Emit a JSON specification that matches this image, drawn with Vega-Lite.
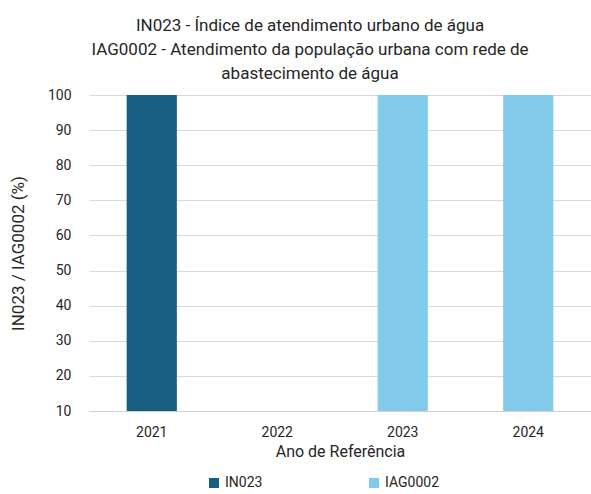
{
  "$schema": "https://vega.github.io/schema/vega-lite/v6.json",
  "width": 502,
  "height": 316,
  "autosize": {"type": "none"},
  "padding": {"left": 89, "top": 95, "right": 0, "bottom": 83},
  "background": "white",
  "config": {
    "view": {"stroke": null},
    "font": "Roboto"
  },
  "title": {
    "text": ["IN023 - Índice de atendimento urbano de água", "IAG0002 - Atendimento da população urbana com rede de", "abastecimento de água"],
    "fontSize": 17,
    "fontWeight": "normal",
    "font": "Roboto",
    "color": "#262626",
    "lineHeight": 24,
    "anchor": "middle",
    "dx": -30,
    "offset": 5
  },
  "data": {
    "values": [
      {"ano": "2021", "serie": "IN023", "valor": 100},
      {"ano": "2023", "serie": "IAG0002", "valor": 100},
      {"ano": "2024", "serie": "IAG0002", "valor": 100}
    ]
  },
  "mark": {"type": "bar", "clip": true},
  "encoding": {
    "x": {
      "field": "ano",
      "type": "nominal",
      "scale": {"domain": ["2021", "2022", "2023", "2024"], "paddingInner": 0.6, "paddingOuter": 0.3},
      "axis": {
        "title": "Ano de Referência",
        "titleFontSize": 16,
        "titleFontWeight": "normal",
        "titleColor": "#262626",
        "titlePadding": 4,
        "labelAngle": 0,
        "labelFontSize": 14,
        "labelColor": "#262626",
        "labelPadding": 14,
        "ticks": false,
        "domainColor": "#d0d0d0",
        "grid": false
      }
    },
    "y": {
      "field": "valor",
      "type": "quantitative",
      "scale": {"domain": [10, 100], "zero": false, "nice": false},
      "axis": {
        "title": "IN023 / IAG0002  (%)",
        "titleFontSize": 17,
        "titleFontWeight": "normal",
        "titleColor": "#262626",
        "titlePadding": 20,
        "values": [10, 20, 30, 40, 50, 60, 70, 80, 90, 100],
        "labelFontSize": 14,
        "labelColor": "#262626",
        "labelPadding": 18,
        "ticks": false,
        "domain": false,
        "gridColor": "#d9d9d9"
      }
    },
    "y2": {"datum": 10},
    "color": {
      "field": "serie",
      "type": "nominal",
      "scale": {"domain": ["IN023", "IAG0002"], "range": ["#175e80", "#83cbeb"]},
      "legend": {
        "title": null,
        "orient": "none",
        "direction": "horizontal",
        "legendX": 118,
        "legendY": 381,
        "symbolType": "square",
        "symbolSize": 100,
        "symbolStrokeWidth": 0,
        "labelFontSize": 14,
        "labelColor": "#262626",
        "columnPadding": 104
      }
    }
  }
}
